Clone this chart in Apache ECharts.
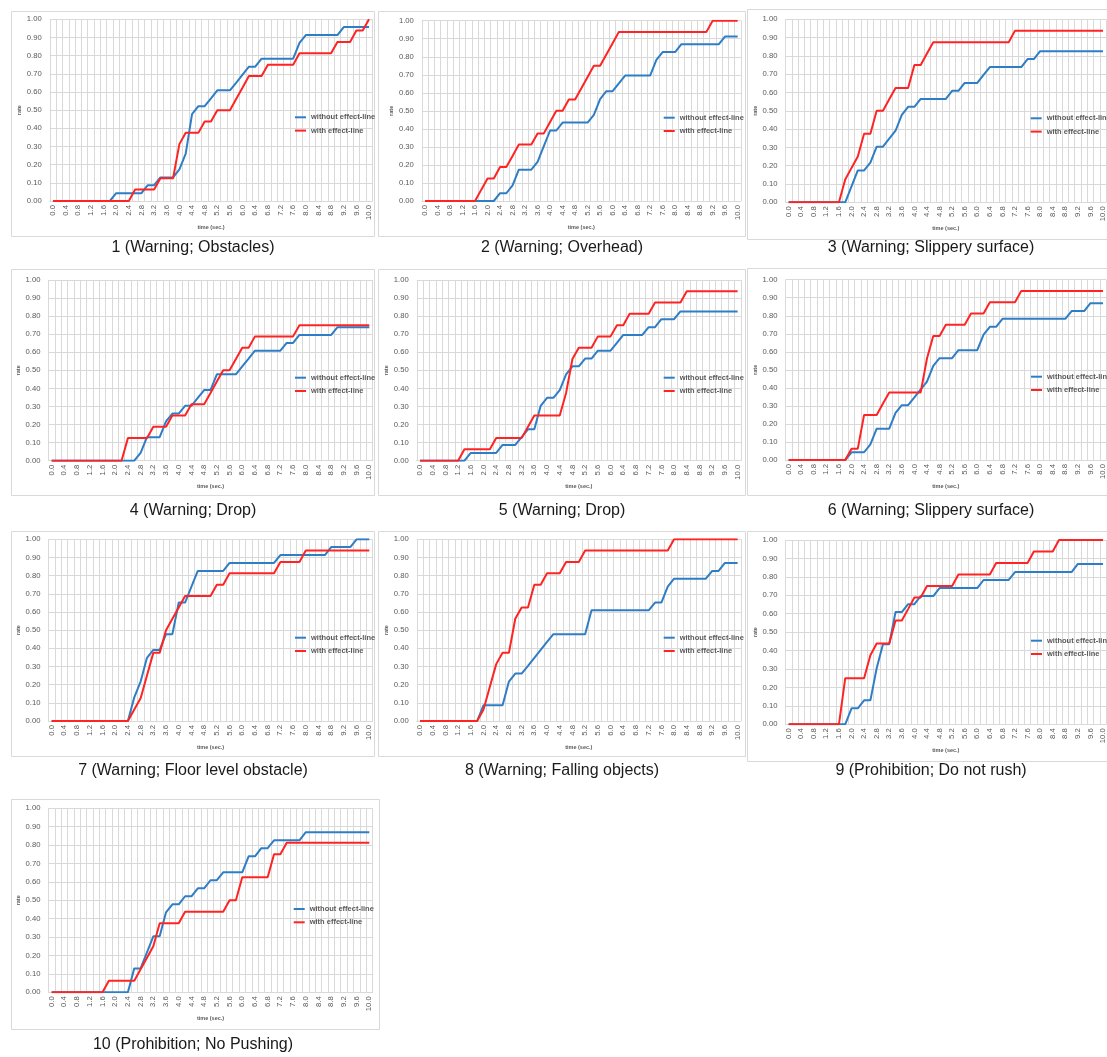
<!DOCTYPE html>
<html>
<head>
<meta charset="utf-8">
<script src="https://cdn.jsdelivr.net/npm/echarts@6/dist/echarts.min.js"></script>
<style>
html,body{margin:0;padding:0;background:#fff;}
#chart{width:1107px;height:1057px;}
</style>
</head>
<body>
<div id="chart"></div>
<script>
// ---------- DATA ----------
const times = ["0.0","0.2","0.4","0.6","0.8","1.0","1.2","1.4","1.6","1.8","2.0","2.2","2.4","2.6","2.8","3.0","3.2","3.4","3.6","3.8","4.0","4.2","4.4","4.6","4.8","5.0","5.2","5.4","5.6","5.8","6.0","6.2","6.4","6.6","6.8","7.0","7.2","7.4","7.6","7.8","8.0","8.2","8.4","8.6","8.8","9.0","9.2","9.4","9.6","9.8","10.0"];
const yTicks = [0,0.1,0.2,0.3,0.4,0.5,0.6,0.7,0.8,0.9,1.0];
const seriesNames = ["without effect-line","with effect-line"];
const captions = ["1 (Warning; Obstacles)","2 (Warning; Overhead)","3 (Warning; Slippery surface)","4 (Warning; Drop)","5 (Warning; Drop)","6 (Warning; Slippery surface)","7 (Warning; Floor level obstacle)","8 (Warning; Falling objects)","9 (Prohibition; Do not rush)","10 (Prohibition; No Pushing)"];

const p1Without = [0,0,0,0,0,0,0,0,0,0, 0.043,0.043,0.043,0.043,0.043, 0.087,0.087, 0.130,0.130,0.130, 0.174, 0.261, 0.478, 0.522,0.522, 0.565, 0.609,0.609,0.609, 0.652, 0.696, 0.739,0.739, 0.783,0.783,0.783,0.783,0.783,0.783, 0.870, 0.913,0.913,0.913,0.913,0.913,0.913, 0.957,0.957,0.957,0.957,0.957];
const p1With = [0,0,0,0,0,0,0,0,0,0,0,0,0, 0.063,0.063,0.063,0.063, 0.125,0.125,0.125, 0.313, 0.375,0.375,0.375, 0.438,0.438, 0.5,0.5,0.5, 0.563, 0.625, 0.688,0.688,0.688, 0.75,0.75,0.75,0.75,0.75, 0.813,0.813,0.813,0.813,0.813,0.813, 0.875,0.875,0.875, 0.938,0.938, 1];

const p2Without = [0,0,0,0,0,0,0,0,0,0,0,0, 0.043,0.043, 0.087, 0.174,0.174,0.174, 0.217, 0.304, 0.391,0.391, 0.435,0.435,0.435,0.435,0.435, 0.478, 0.565, 0.609,0.609, 0.652, 0.696,0.696,0.696,0.696,0.696, 0.783, 0.826,0.826,0.826, 0.870,0.870,0.870,0.870,0.870,0.870,0.870, 0.913,0.913,0.913];
const p2With = [0,0,0,0,0,0,0,0,0, 0.063, 0.125,0.125, 0.188,0.188, 0.25, 0.313,0.313,0.313, 0.375,0.375, 0.438, 0.5,0.5, 0.563,0.563, 0.625, 0.688, 0.75,0.75, 0.813, 0.875, 0.938,0.938,0.938,0.938,0.938,0.938,0.938,0.938,0.938,0.938,0.938,0.938,0.938,0.938,0.938, 1,1,1,1,1];

const p3Without = [0,0,0,0,0,0,0,0,0,0, 0.087, 0.174,0.174, 0.217, 0.304,0.304, 0.348, 0.391, 0.478, 0.522,0.522, 0.565,0.565,0.565,0.565,0.565, 0.609,0.609, 0.652,0.652,0.652, 0.696, 0.739,0.739,0.739,0.739,0.739,0.739, 0.783,0.783, 0.826,0.826,0.826,0.826,0.826,0.826,0.826,0.826,0.826,0.826,0.826];
const p3With = [0,0,0,0,0,0,0,0,0, 0.125, 0.188, 0.25, 0.375,0.375, 0.5,0.5, 0.563, 0.625,0.625,0.625, 0.75,0.75, 0.813, 0.875,0.875,0.875,0.875,0.875,0.875,0.875,0.875,0.875,0.875,0.875,0.875,0.875, 0.938,0.938,0.938,0.938,0.938,0.938,0.938,0.938,0.938,0.938,0.938,0.938,0.938,0.938,0.938];

const p4Without = [0,0,0,0,0,0,0,0,0,0,0,0,0,0, 0.043, 0.130,0.130,0.130, 0.217, 0.261,0.261, 0.304,0.304, 0.348, 0.391,0.391, 0.478,0.478,0.478,0.478, 0.522, 0.565, 0.609,0.609,0.609,0.609,0.609, 0.652,0.652, 0.696,0.696,0.696,0.696,0.696,0.696, 0.739,0.739,0.739,0.739,0.739,0.739];
const p4With = [0,0,0,0,0,0,0,0,0,0,0,0, 0.125,0.125,0.125,0.125, 0.188,0.188,0.188, 0.25,0.25,0.25, 0.313,0.313,0.313, 0.375, 0.438, 0.5,0.5, 0.563, 0.625,0.625, 0.688,0.688,0.688,0.688,0.688,0.688,0.688, 0.75,0.75,0.75,0.75,0.75,0.75,0.75,0.75,0.75,0.75,0.75,0.75];

const p5Without = [0,0,0,0,0,0,0,0, 0.043,0.043,0.043,0.043,0.043, 0.087,0.087,0.087, 0.130, 0.174,0.174, 0.304, 0.348,0.348, 0.391, 0.478, 0.522,0.522, 0.565,0.565, 0.609,0.609,0.609, 0.652, 0.696,0.696,0.696,0.696, 0.739,0.739, 0.783,0.783,0.783, 0.826,0.826,0.826,0.826,0.826,0.826,0.826,0.826,0.826,0.826];
const p5With = [0,0,0,0,0,0,0, 0.063,0.063,0.063,0.063,0.063, 0.125,0.125,0.125,0.125,0.125, 0.188, 0.25,0.25,0.25,0.25,0.25, 0.375, 0.563, 0.625,0.625,0.625, 0.688,0.688,0.688, 0.75,0.75, 0.813,0.813,0.813,0.813, 0.875,0.875,0.875,0.875,0.875, 0.938,0.938,0.938,0.938,0.938,0.938,0.938,0.938,0.938];

const p6Without = [0,0,0,0,0,0,0,0,0,0, 0.043,0.043,0.043, 0.087, 0.174,0.174,0.174, 0.261, 0.304,0.304, 0.348, 0.391, 0.435, 0.522, 0.565,0.565,0.565, 0.609,0.609,0.609,0.609, 0.696, 0.739,0.739, 0.783,0.783,0.783,0.783,0.783,0.783,0.783,0.783,0.783,0.783,0.783, 0.826,0.826,0.826, 0.870,0.870,0.870];
const p6With = [0,0,0,0,0,0,0,0,0,0, 0.063,0.063, 0.25,0.25,0.25, 0.313, 0.375,0.375,0.375,0.375,0.375,0.375, 0.563, 0.688,0.688, 0.75,0.75,0.75,0.75, 0.813,0.813,0.813, 0.875,0.875,0.875,0.875,0.875, 0.938,0.938,0.938,0.938,0.938,0.938,0.938,0.938,0.938,0.938,0.938,0.938,0.938,0.938];

const p7Without = [0,0,0,0,0,0,0,0,0,0,0,0,0, 0.130, 0.217, 0.348, 0.391,0.391, 0.478,0.478, 0.652,0.652, 0.739, 0.826,0.826,0.826,0.826,0.826, 0.870,0.870,0.870,0.870,0.870,0.870,0.870,0.870, 0.913,0.913,0.913,0.913,0.913,0.913,0.913,0.913, 0.957,0.957,0.957,0.957, 1,1,1];
const p7With = [0,0,0,0,0,0,0,0,0,0,0,0,0, 0.063, 0.125, 0.25, 0.375,0.375, 0.5, 0.563, 0.625, 0.688,0.688,0.688,0.688,0.688, 0.75,0.75, 0.813,0.813,0.813,0.813,0.813,0.813,0.813,0.813, 0.875,0.875,0.875,0.875, 0.938,0.938,0.938,0.938,0.938,0.938,0.938,0.938,0.938,0.938,0.938];

const p8Without = [0,0,0,0,0,0,0,0,0,0, 0.087,0.087,0.087,0.087, 0.217, 0.261,0.261, 0.304, 0.348, 0.391, 0.435, 0.478,0.478,0.478,0.478,0.478,0.478, 0.609,0.609,0.609,0.609,0.609,0.609,0.609,0.609,0.609,0.609, 0.652,0.652, 0.739, 0.783,0.783,0.783,0.783,0.783,0.783, 0.826,0.826, 0.870,0.870,0.870];
const p8With = [0,0,0,0,0,0,0,0,0,0, 0.063, 0.188, 0.313, 0.375,0.375, 0.563, 0.625,0.625, 0.75,0.75, 0.813,0.813,0.813, 0.875,0.875,0.875, 0.938,0.938,0.938,0.938,0.938,0.938,0.938,0.938,0.938,0.938,0.938,0.938,0.938,0.938, 1,1,1,1,1,1,1,1,1,1,1];

const p9Without = [0,0,0,0,0,0,0,0,0,0, 0.087,0.087, 0.130,0.130, 0.304, 0.435,0.435, 0.609,0.609, 0.652,0.652, 0.696,0.696,0.696, 0.739,0.739,0.739,0.739,0.739,0.739,0.739, 0.783,0.783,0.783,0.783,0.783, 0.826,0.826,0.826,0.826,0.826,0.826,0.826,0.826,0.826,0.826, 0.870,0.870,0.870,0.870,0.870];
const p9With = [0,0,0,0,0,0,0,0,0, 0.25,0.25,0.25,0.25, 0.375, 0.438,0.438,0.438, 0.563,0.563, 0.625, 0.688,0.688, 0.75,0.75,0.75,0.75,0.75, 0.813,0.813,0.813,0.813,0.813,0.813, 0.875,0.875,0.875,0.875,0.875,0.875, 0.938,0.938,0.938,0.938, 1,1,1,1,1,1,1,1];

const p10Without = [0,0,0,0,0,0,0,0,0,0,0,0,0, 0.130,0.130, 0.217, 0.304,0.304, 0.435, 0.478,0.478, 0.522,0.522, 0.565,0.565, 0.609,0.609, 0.652,0.652,0.652,0.652, 0.739,0.739, 0.783,0.783, 0.826,0.826,0.826,0.826,0.826, 0.870,0.870,0.870,0.870,0.870,0.870,0.870,0.870,0.870,0.870,0.870];
const p10With = [0,0,0,0,0,0,0,0,0, 0.063,0.063,0.063,0.063,0.063, 0.125, 0.188, 0.25, 0.375,0.375,0.375,0.375, 0.438,0.438,0.438,0.438,0.438,0.438,0.438, 0.5,0.5, 0.625,0.625,0.625,0.625,0.625, 0.75,0.75, 0.813,0.813,0.813,0.813,0.813,0.813,0.813,0.813,0.813,0.813,0.813,0.813,0.813,0.813];

const withoutData = [p1Without,p2Without,p3Without,p4Without,p5Without,p6Without,p7Without,p8Without,p9Without,p10Without];
const withData = [p1With,p2With,p3With,p4With,p5With,p6With,p7With,p8With,p9With,p10With];

// ---------- LAYOUT (positions only) ----------
const layout = [
  {frame:[11.5,11.5,363,225],  grid:[49.8,19.3,322.4,181.7], legend:[295,112.3], cap:[193,248]},
  {frame:[378.5,11.5,367,225], grid:[421.9,20.7,318.9,180.3], legend:[663.7,112.7], cap:[562,248]},
  {frame:[747.5,9.5,365,230],  grid:[785.5,19.3,323.5,183],  legend:[1030.7,113.3], cap:[931,248]},
  {frame:[11.5,269.5,363,226], grid:[48.5,280,324,180.7],    legend:[295,372.7], cap:[193,511]},
  {frame:[378.5,269.5,367,226],grid:[416.8,280,324,180.7],   legend:[663.7,372.7], cap:[562,511]},
  {frame:[747.5,268.5,365,227],grid:[785.5,279.7,324,180.3], legend:[1031,371.7], cap:[931,511]},
  {frame:[11.5,531.5,363,225], grid:[48.5,539.3,324,181.7],  legend:[295,632.7], cap:[193,771]},
  {frame:[378.5,531.5,367,225],grid:[416.8,539.3,324,181.7], legend:[663.7,632.7], cap:[562,771]},
  {frame:[747.5,531.5,365,230],grid:[785.5,540,324,184.3],   legend:[1031,635.7], cap:[931,771]},
  {frame:[11.5,799.5,368,230], grid:[48.5,808.3,324,184],    legend:[293.7,904], cap:[193,1045]}
];

const BLUE = '#2f7ec5', RED = '#ff2424', GRID = '#d9d9d9', TXT = '#595959';
const FONT = '"Liberation Sans", Arial, sans-serif';

const grid=[], xAxis=[], yAxis=[], series=[], legend=[], graphic=[];
layout.forEach((L,i)=>{
  graphic.push({type:'rect', silent:true, z:0, shape:{x:L.frame[0], y:L.frame[1], width:L.frame[2], height:L.frame[3]}, style:{fill:'none', stroke:GRID, lineWidth:1}});
  graphic.push({type:'text', silent:true, x:L.cap[0], y:L.cap[1], style:{text:captions[i], fontSize:16, fontFamily:FONT, fill:'#1a1a1a', align:'center', verticalAlign:'middle', textAlign:'center', textVerticalAlign:'middle'}});
  grid.push({left:L.grid[0], top:L.grid[1], width:L.grid[2], height:L.grid[3]});
  xAxis.push({
    type:'category', gridIndex:i, data:times, boundaryGap:true,
    name:'time (sec.)', nameLocation:'middle', nameGap:23,
    nameTextStyle:{fontSize:5.5, color:TXT, fontWeight:'bold', fontFamily:FONT},
    axisLine:{show:true, lineStyle:{color:GRID}},
    axisTick:{show:false},
    axisLabel:{interval:1, rotate:90, fontSize:7.7, color:TXT, margin:4, fontFamily:FONT},
    splitLine:{show:true, interval:0, lineStyle:{color:GRID, width:1}}
  });
  yAxis.push({
    type:'value', gridIndex:i, min:yTicks[0], max:yTicks[yTicks.length-1], interval:0.1,
    name:'rate', nameLocation:'middle', nameGap:27,
    nameTextStyle:{fontSize:5.5, color:TXT, fontWeight:'bold', fontFamily:FONT},
    axisLine:{show:false}, axisTick:{show:false},
    axisLabel:{fontSize:7.7, color:TXT, margin:8, fontFamily:FONT, formatter:v=>v.toFixed(2)},
    splitLine:{show:true, lineStyle:{color:GRID, width:1}}
  });
  series.push({name:seriesNames[0], type:'line', xAxisIndex:i, yAxisIndex:i, data:withoutData[i], symbol:'none', showSymbol:false, lineStyle:{width:2, color:BLUE}, itemStyle:{color:BLUE}, z:3});
  series.push({name:seriesNames[1], type:'line', xAxisIndex:i, yAxisIndex:i, data:withData[i], symbol:'none', showSymbol:false, lineStyle:{width:2, color:RED}, itemStyle:{color:RED}, z:4});
  legend.push({data:seriesNames, orient:'vertical', left:L.legend[0], top:L.legend[1], icon:'rect', itemWidth:11, itemHeight:2, itemGap:3.3, padding:0, selectedMode:false,
    textStyle:{fontSize:7.5, fontWeight:'bold', color:TXT, lineHeight:10, fontFamily:FONT}});
});

const chart = echarts.init(document.getElementById('chart'), null, {renderer:'canvas'});
chart.setOption({animation:false, backgroundColor:'#fff', grid, xAxis, yAxis, series, legend, graphic});
</script>
</body>
</html>
